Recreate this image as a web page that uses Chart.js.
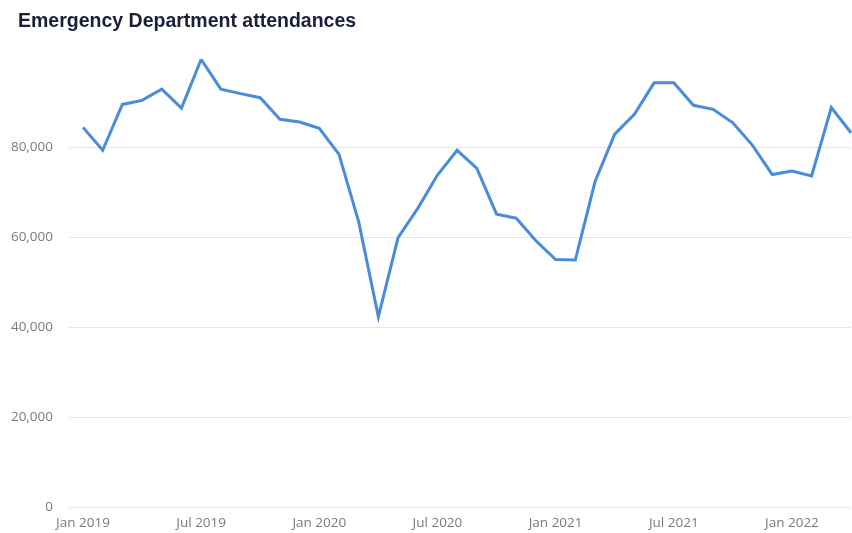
<!DOCTYPE html>
<html>
<head>
<meta charset="utf-8">
<script src="https://cdn.jsdelivr.net/npm/chart.js@4/dist/chart.umd.min.js"></script>
<style>
	html, body { margin: 0; padding: 0; background: #fff; }
	#wrap { width: 852px; height: 533px; }
</style>
</head>
<body>
<div id="wrap"><canvas id="edChart" width="852" height="533"></canvas></div>
<script>
// monthly attendances, Jan 2019 - Apr 2022
const months = [
	"Jan 2019", "Feb 2019", "Mar 2019", "Apr 2019", "May 2019", "Jun 2019",
	"Jul 2019", "Aug 2019", "Sep 2019", "Oct 2019", "Nov 2019", "Dec 2019",
	"Jan 2020", "Feb 2020", "Mar 2020", "Apr 2020", "May 2020", "Jun 2020",
	"Jul 2020", "Aug 2020", "Sep 2020", "Oct 2020", "Nov 2020", "Dec 2020",
	"Jan 2021", "Feb 2021", "Mar 2021", "Apr 2021", "May 2021", "Jun 2021",
	"Jul 2021", "Aug 2021", "Sep 2021", "Oct 2021", "Nov 2021", "Dec 2021",
	"Jan 2022", "Feb 2022", "Mar 2022", "Apr 2022"
];

const attendances = [
	84400, 79300, 89500, 90400, 92900, 88700,
	99500, 92900, 91900, 91000, 86200, 85600,
	84200, 78400, 63400, 42300, 59900, 66400,
	73800, 79300, 75300, 65100, 64200, 59200,
	55000, 54900, 72300, 82900, 87300, 94300,
	94300, 89300, 88400, 85400, 80400, 73900,
	74700, 73600, 88800, 83200
];

const yTicks = [0, 20000, 40000, 60000, 80000];

const chartTitle = "Emergency Department attendances";

const tickFont = { family: "'Open Sans', sans-serif", size: 13.5 };

// draws the heading at the top left, like the original
const headingPlugin = {
	id: "heading",
	afterDraw(chart) {
		const c = chart.ctx;
		c.save();
		c.font = "bold 19.5px 'Liberation Sans', Arial, sans-serif";
		c.fillStyle = "#1b1f38";
		c.textAlign = "left";
		c.textBaseline = "alphabetic";
		c.fillText(chartTitle, 18, 27);
		c.restore();
	},
};

const ctx = document.getElementById("edChart").getContext("2d");
const edChart = new Chart(ctx, {
	type: "line",
	data: {
		labels: months,
		datasets: [
			{
				label: chartTitle,
				data: attendances,
				borderColor: "#4a8cd9",
				borderWidth: 3,
				pointRadius: 0,
				tension: 0,
				fill: false,
			},
		],
	},
	plugins: [headingPlugin],
	options: {
		responsive: false,
		animation: false,
		layout: {
			padding: { left: 0, right: 1, top: 59, bottom: 2 },
		},
		plugins: {
			legend: { display: false },
			tooltip: { enabled: false },
			title: { display: false },
		},
		scales: {
			x: {
				afterFit: (scale) => {
					scale.height = 24;
					scale.paddingLeft = 0;
					scale.paddingRight = 0;
				},
				grid: { display: false, drawTicks: false },
				border: { display: false },
				ticks: {
					autoSkip: false,
					maxRotation: 0,
					padding: 8,
					color: "#7a7a7a",
					font: tickFont,
					callback: function (value, index) {
						const lbl = months[index];
						return lbl.startsWith("Jan") || lbl.startsWith("Jul") ? lbl : "";
					},
				},
			},
			y: {
				min: 0,
				max: 99600,
				afterFit: (scale) => {
					scale.width = 83;
					scale.paddingTop = 0;
					scale.paddingBottom = 0;
				},
				afterBuildTicks: (scale) => {
					scale.ticks = yTicks.map((v) => ({ value: v }));
				},
				grid: {
					color: "#e6e6e6",
					lineWidth: 1,
					drawTicks: true,
					tickLength: 14,
				},
				border: { display: false },
				ticks: {
					padding: 16,
					color: "#7a7a7a",
					font: tickFont,
					callback: (v) => v.toLocaleString("en-US"),
				},
			},
		},
	},
});
</script>
</body>
</html>
